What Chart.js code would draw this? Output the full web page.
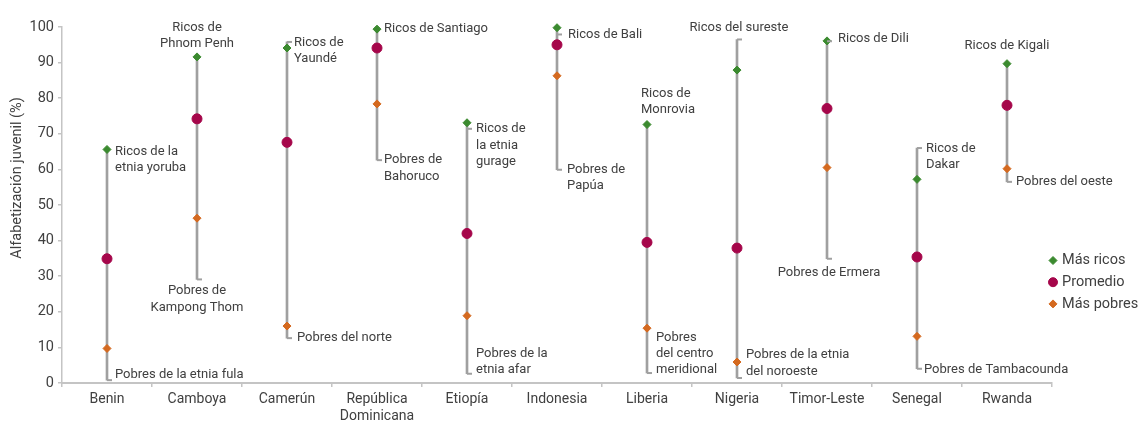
<!DOCTYPE html>
<html>
<head>
<meta charset="utf-8">
<script src="https://cdn.jsdelivr.net/npm/chart.js@4/dist/chart.umd.min.js"></script>
<style>
  html, body { margin: 0; padding: 0; background: #fff; }
  #wrap { width: 1144px; height: 424px; }
</style>
</head>
<body>
<div id="wrap"><canvas id="chart" width="1144" height="424"></canvas></div>
<script>
// data
const countries = ['Benin', 'Camboya', 'Camerún', ['República', 'Dominicana'], 'Etiopía', 'Indonesia',
  'Liberia', 'Nigeria', 'Timor-Leste', 'Senegal', 'Rwanda'];
const ricos    = [65.6, 91.6, 94.1, 99.4, 73.1, 99.8, 72.6, 87.9, 96.1, 57.2, 89.7];
const promedio = [34.9, 74.2, 67.6, 94.1, 42.0, 95.0, 39.5, 37.9, 77.1, 35.4, 78.0];
const pobres   = [9.7, 46.3, 16.0, 78.4, 18.9, 86.3, 15.4, 5.9, 60.5, 13.1, 60.2];

// leader lines (value range each bracket covers)
const lineTop    = [65.6, 91.6, 95.8, 99.4, 73.1, 99.8, 72.6, 96.5, 96.1, 66.0, 89.7];
const lineBottom = [0.8, 29.1, 12.6, 62.6, 2.6, 59.9, 2.8, 1.4, 34.9, 4.0, 56.5];
const topTick    = [null, null, 95.8, null, 71.4, 97.9, null, 96.5, 96.0, 66.0, null];

const ricosLabels = [
  ['Ricos de la', 'etnia yoruba'], ['Ricos de', 'Phnom Penh'], ['Ricos de', 'Yaundé'],
  ['Ricos de Santiago'], ['Ricos de', 'la etnia', 'gurage'], ['Ricos de Bali'],
  ['Ricos de', 'Monrovia'], ['Ricos del sureste'], ['Ricos de Dili'], ['Ricos de', 'Dakar'],
  ['Ricos de Kigali']
];
const pobresLabels = [
  ['Pobres de la etnia fula'], ['Pobres de', 'Kampong Thom'], ['Pobres del norte'],
  ['Pobres de', 'Bahoruco'], ['Pobres de la', 'etnia afar'], ['Pobres de', 'Papúa'],
  ['Pobres', 'del centro', 'meridional'], ['Pobres de la etnia', 'del noroeste'],
  ['Pobres de Ermera'], ['Pobres de Tambacounda'], ['Pobres del oeste']
];

// where the label text sits: value of first line, horizontal shift, alignment
const ricosPlace = [
  [64.9, 8, 'left'], [99.8, 0, 'center'], [95.5, 7, 'left'], [99.4, 7, 'left'],
  [71.3, 9, 'left'], [97.8, 11, 'left'], [81.3, -6, 'left'], [99.8, 2, 'center'],
  [96.6, 11, 'left'], [65.8, 9, 'left'], [94.6, 0, 'center']
];
const pobresPlace = [
  [2.4, 8, 'left'], [25.8, 0, 'center'], [12.6, 10, 'left'], [62.6, 7, 'left'],
  [8.3, 9, 'left'], [59.9, 10, 'left'], [12.8, 9, 'left'], [7.8, 9, 'left'],
  [31.1, 2, 'center'], [3.8, 7, 'left'], [56.4, 9, 'left']
];

const green = '#3b8a2f';
const crimson = '#a5064a';
const orange = '#d4691f';
const lineGray = '#a0a0a0';
const axisGray = '#c4c4c4';
const textColor = '#404040';
const fontFamily = 'Roboto, "Liberation Sans", sans-serif';

const legendItems = [
  { text: 'Más ricos', style: 'rectRot', color: green, r: 4 },
  { text: 'Promedio', style: 'circle', color: crimson, r: 4.5 },
  { text: 'Más pobres', style: 'rectRot', color: orange, r: 4 }
];

// brackets, text labels, legend and y title
const annotate = {
  id: 'annotate',
  afterDatasetsDraw(chart) {
    const { ctx, scales: { x, y } } = chart;
    ctx.save();

    // bracket ticks
    ctx.strokeStyle = lineGray;
    ctx.lineWidth = 2;
    countries.forEach((c, i) => {
      const cx = x.getPixelForValue(i);
      const yb = y.getPixelForValue(lineBottom[i]);
      ctx.beginPath();
      ctx.moveTo(cx, yb);
      ctx.lineTo(cx + 5, yb);
      ctx.stroke();
      if (topTick[i] !== null) {
        const yt = y.getPixelForValue(topTick[i]);
        ctx.beginPath();
        ctx.moveTo(cx, yt);
        ctx.lineTo(cx + 5, yt);
        ctx.stroke();
      }
    });

    // labels
    ctx.fillStyle = textColor;
    ctx.font = '13px ' + fontFamily;
    ctx.textBaseline = 'middle';
    const lh = 16.2;
    function drawLabel(lines, place, i) {
      const cx = x.getPixelForValue(i);
      const y0 = y.getPixelForValue(place[0]);
      ctx.textAlign = place[2];
      lines.forEach((t, k) => ctx.fillText(t, cx + place[1], y0 + k * lh));
    }
    ricosLabels.forEach((l, i) => drawLabel(l, ricosPlace[i], i));
    pobresLabels.forEach((l, i) => drawLabel(l, pobresPlace[i], i));

    // legend
    ctx.font = '14.5px ' + fontFamily;
    ctx.textAlign = 'left';
    legendItems.forEach((it, k) => {
      const ly = 260.5 + k * 21.7;
      ctx.fillStyle = it.color;
      ctx.strokeStyle = it.color;
      ctx.lineWidth = 1;
      Chart.helpers.drawPoint(ctx, { pointStyle: it.style, radius: it.r, borderWidth: 1 }, 1053, ly);
      ctx.fillStyle = textColor;
      ctx.fillText(it.text, 1062, ly);
    });

    // y axis title
    ctx.translate(17, 178);
    ctx.rotate(-Math.PI / 2);
    ctx.textAlign = 'center';
    ctx.font = '14.5px ' + fontFamily;
    ctx.fillText('Alfabetización juvenil (%)', 0, 0);

    ctx.restore();
  }
};

new Chart(document.getElementById('chart').getContext('2d'), {
  type: 'bar',
  data: {
    labels: countries,
    datasets: [
      {
        type: 'bar',
        label: 'rango',
        data: lineBottom.map((b, i) => [b, lineTop[i]]),
        backgroundColor: lineGray,
        barThickness: 2,
        borderSkipped: false,
        order: 10
      },
      {
        type: 'line', label: 'Más ricos', data: ricos, showLine: false, clip: false,
        pointStyle: 'rectRot', pointRadius: 4, pointBorderWidth: 1,
        backgroundColor: green, borderColor: green, order: 1
      },
      {
        type: 'line', label: 'Promedio', data: promedio, showLine: false, clip: false,
        pointStyle: 'circle', pointRadius: 5, pointBorderWidth: 1,
        backgroundColor: crimson, borderColor: crimson, order: 1
      },
      {
        type: 'line', label: 'Más pobres', data: pobres, showLine: false, clip: false,
        pointStyle: 'rectRot', pointRadius: 4, pointBorderWidth: 1,
        backgroundColor: orange, borderColor: orange, order: 1
      }
    ]
  },
  options: {
    responsive: false,
    animation: false,
    layout: { padding: { top: 27, right: 92, left: 0, bottom: 0 } },
    plugins: { legend: { display: false }, tooltip: { enabled: false } },
    scales: {
      x: {
        grid: { display: true, drawOnChartArea: false, offset: true, tickLength: 4, color: axisGray, lineWidth: 1.5 },
        border: { color: axisGray, width: 2 },
        ticks: { color: textColor, padding: 4, maxRotation: 0, autoSkip: false,
          font: { family: fontFamily, size: 14, lineHeight: 1.2 } },
        afterFit: s => { s.height = 41; }
      },
      y: {
        min: 0, max: 100,
        grid: { drawOnChartArea: false, tickLength: 4, color: axisGray, lineWidth: 1.5 },
        border: { color: axisGray, width: 1.5 },
        ticks: { stepSize: 10, color: textColor, padding: 4,
          font: { family: fontFamily, size: 14.5 } },
        afterFit: s => { s.width = 62; }
      }
    }
  },
  plugins: [annotate]
});
</script>
</body>
</html>
